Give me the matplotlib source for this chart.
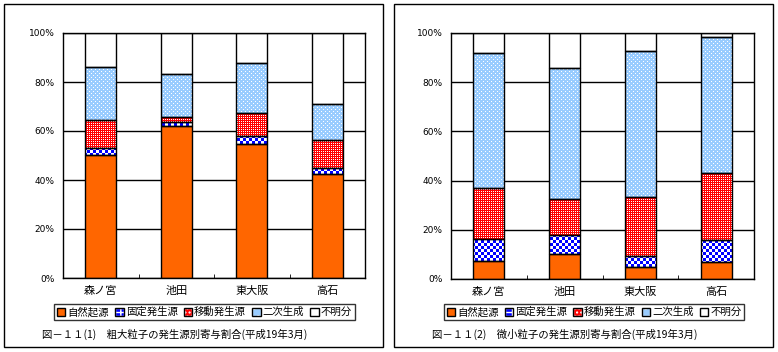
import matplotlib
matplotlib.use("Agg")
import matplotlib.pyplot as plt
from matplotlib.patches import Patch, Rectangle
from matplotlib.colors import to_rgba
import numpy as np

plt.rcParams['font.family'] = ['Noto Sans CJK JP', 'DejaVu Sans']

sites = ["森ノ宮", "池田", "東大阪", "高石"]
sources = ["自然起源", "固定発生源", "移動発生源", "二次生成", "不明分"]

# coarse particles (%)
coarse_natural = [50.1, 61.9, 54.7, 42.4]
coarse_fixed = [3.0, 1.6, 3.3, 2.5]
coarse_mobile = [11.4, 2.2, 9.3, 11.4]
coarse_secondary = [21.6, 17.6, 20.5, 14.7]

# fine particles (%)
fine_natural = [7.2, 10.2, 4.9, 6.9]
fine_fixed = [8.9, 7.7, 4.4, 9.0]
fine_mobile = [20.8, 14.6, 24.0, 27.2]
fine_secondary = [55.0, 53.1, 59.4, 55.3]

titles = ["図－１１(1)　粗大粒子の発生源別寄与割合(平成19年3月)",
          "図－１１(2)　微小粒子の発生源別寄与割合(平成19年3月)"]

ORANGE = "#FF6600"
RED = "#FF0000"
LBLUE = "#99CCFF"
BLUE = "#0000FF"


def pat_checker(i, j):
    return (i // 3 + j // 3) % 2 == 1


def pat_dense(i, j):
    return (i % 2 == 0) & (j % 2 == 0)


def pat_sparse(i, j):
    return ((i % 4 == 0) & (j % 4 == 0)) | ((i % 4 == 2) & (j % 4 == 2))


def paint_patterns(ax, jobs):
    # one RGBA image over the axes, one image pixel per screen pixel;
    # bar areas come from the bar patches' screen extents
    bb = ax.get_window_extent()
    nx, ny = int(round(bb.width)), int(round(bb.height))
    img = np.zeros((ny, nx, 4))
    i, j = np.indices((ny, nx))
    ypix = bb.y1 - i - 0.5   # screen y of row centres
    xpix = bb.x0 + j + 0.5
    for bars, func, c0, c1 in jobs:
        on = func(i, j)
        for b in bars:
            e = b.get_window_extent()
            m = (xpix > e.x0) & (xpix < e.x1) & (ypix > e.y0) & (ypix < e.y1)
            img[m & ~on] = to_rgba(c0)
            img[m & on] = to_rgba(c1)
    ax.imshow(img, extent=(*ax.get_xlim(), *ax.get_ylim()), aspect="auto",
              interpolation="nearest", origin="upper", zorder=2.5)


def draw_panel(fig, rect, series, title, box):
    ax = fig.add_axes(rect)
    ax.set_xlim(-0.5, 3.5)
    ax.set_ylim(0, 100)
    x = np.arange(len(sites))
    w = 0.41
    natural, fixed, mobile, secondary = series
    unknown = [100 - a - b - c - d for a, b, c, d in zip(natural, fixed, mobile, secondary)]
    bottom = np.zeros(len(sites))
    styles = [(natural, ORANGE, None),
              (fixed, "white", (pat_checker, "white", BLUE)),
              (mobile, RED, (pat_dense, RED, "white")),
              (secondary, LBLUE, (pat_sparse, LBLUE, "white")),
              (unknown, "white", None)]
    jobs = []
    for vals, face, pat in styles:
        vals = np.array(vals)
        bars = ax.bar(x, vals, w, bottom=bottom, color=face, linewidth=0, zorder=2)
        if pat is not None:
            jobs.append((bars, *pat))
        ax.bar(x, vals, w, bottom=bottom, fill=False, edgecolor="black", linewidth=1, zorder=3)
        bottom += vals
    paint_patterns(ax, jobs)
    ax.set_xlim(-0.5, 3.5)
    ax.set_ylim(0, 100)
    ax.set_yticks(np.arange(0, 101, 20))
    ax.set_yticklabels([f"{v}%" for v in range(0, 101, 20)], fontsize=6.5, family="DejaVu Sans")
    ax.yaxis.grid(True, color="black", linewidth=1)
    ax.set_axisbelow(True)
    ax.tick_params(axis="y", length=0, pad=6)
    ax.set_xticks(x)
    ax.set_xticklabels(sites, fontsize=8)
    ax.tick_params(axis="x", length=0, pad=6)
    ax.set_xticks([0.5, 1.5, 2.5], minor=True)
    ax.tick_params(axis="x", which="minor", direction="in", length=3, color="black")
    for s in ax.spines.values():
        s.set_linewidth(1)
        s.set_color("black")

    border = Patch(fill=False, edgecolor="black")
    handles = [
        (Patch(facecolor=ORANGE, edgecolor="none"), border),
        (Patch(facecolor=BLUE, edgecolor="white", hatch="++"), border),
        (Patch(facecolor=RED, edgecolor="white", hatch="...."), border),
        (Patch(facecolor=LBLUE, edgecolor="white", hatch=".."), border),
        (Patch(facecolor="white", edgecolor="none"), border),
    ]
    lx0, ly0, lx1, ly1 = box["legend"]
    leg = fig.legend(handles, sources, loc="center",
                     bbox_to_anchor=((lx0 + lx1) / 2 / 778, 1 - (ly0 + ly1) / 2 / 352),
                     ncol=5, fontsize=7.5, frameon=True, fancybox=False, edgecolor="black",
                     handlelength=0.8, handleheight=0.8, handletextpad=0.2, columnspacing=0.6,
                     borderpad=0.25, borderaxespad=0)
    leg.get_frame().set_linewidth(1)

    fig.text(box["title"][0] / 778, 1 - box["title"][1] / 352, title, fontsize=7.5,
             ha="left", va="center")
    fx0, fy0, fx1, fy1 = box["frame"]
    fig.patches.append(Rectangle((fx0 / 778, 1 - fy1 / 352), (fx1 - fx0) / 778, (fy1 - fy0) / 352,
                                 transform=fig.transFigure, fill=False, edgecolor="black",
                                 linewidth=1))
    return ax


fig = plt.figure(figsize=(7.78, 3.52), dpi=100)
fig.patch.set_facecolor("white")

draw_panel(fig, [63 / 778, (352 - 278) / 352, 302 / 778, 245 / 352],
           [coarse_natural, coarse_fixed, coarse_mobile, coarse_secondary], titles[0],
           {"legend": (52, 303, 357, 321), "title": (42, 334), "frame": (4, 4, 383, 347)})
draw_panel(fig, [451 / 778, (352 - 279) / 352, 303 / 778, 246 / 352],
           [fine_natural, fine_fixed, fine_mobile, fine_secondary], titles[1],
           {"legend": (441, 303, 747, 321), "title": (432, 334), "frame": (394, 4, 773, 347)})

fig.savefig("out.png", dpi=100)
